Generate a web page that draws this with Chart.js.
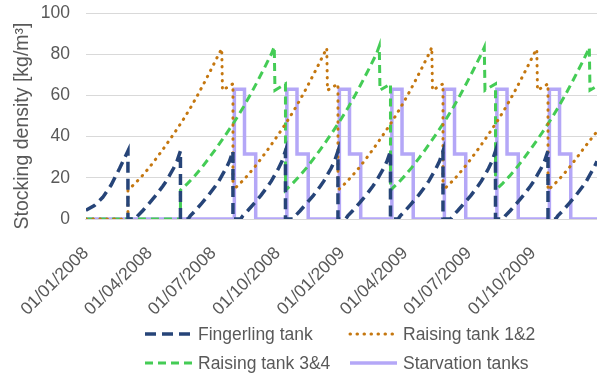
<!DOCTYPE html>
<html>
<head>
<meta charset="utf-8">
<script src="https://cdn.jsdelivr.net/npm/chart.js@4"></script>
<style>
  html, body { margin: 0; padding: 0; background: #fff; }
  #wrap { width: 597px; height: 378px; position: relative; }
</style>
</head>
<body>
<div id="wrap"><canvas id="stockChart"></canvas></div>
<script>
// x = days since 01/01/2008, y = stocking density [kg/m3]
const tickDays = [0, 91, 182, 274, 366, 456, 547, 639];
const tickLabels = ['01/01/2008', '01/04/2008', '01/07/2008', '01/10/2008',
                    '01/01/2009', '01/04/2009', '01/07/2009', '01/10/2009'];

const fingerling = [
  [0,4.2],[12,6.5],[24,10.5],[36,16.5],[48,24.5],[60,33],[60,0],
  [71,0],[74,1.5],[81,4],[90,7.5],[100,11.5],[110,16],[115,18.5],[120,21.5],[125,24.5],[130,28],[135,33],[135,0],
  [146,0],[149,1.5],[156,4],[165,7.5],[175,11.5],[185,16],[190,18.5],[195,21.5],[200,24.5],[205,28],[210,33],[210,0],
  [221,0],[224,1.5],[231,4],[240,7.5],[250,11.5],[260,16],[265,18.5],[270,21.5],[275,24.5],[280,28],[285,33],[285,0],
  [296,0],[299,1.5],[306,4],[315,7.5],[325,11.5],[335,16],[340,18.5],[345,21.5],[350,24.5],[355,28],[360,33],[360,0],
  [371,0],[374,1.5],[381,4],[390,7.5],[400,11.5],[410,16],[415,18.5],[420,21.5],[425,24.5],[430,28],[435,33],[435,0],
  [446,0],[449,1.5],[456,4],[465,7.5],[475,11.5],[485,16],[490,18.5],[495,21.5],[500,24.5],[505,28],[510,33],[510,0],
  [521,0],[524,1.5],[531,4],[540,7.5],[550,11.5],[560,16],[565,18.5],[570,21.5],[575,24.5],[580,28],[585,33],[585,0],
  [596,0],[599,1.5],[606,4],[615,7.5],[625,11.5],[635,16],[640,18.5],[645,21.5],[650,24.5],[655,28],[660,33],[660,0],
  [671,0],[674,1.5],[681,4],[690,7.5],[700,11.5],[710,16],[715,18.5],[720,21.5],[725,24.5],[730,28]
];

const raising12 = [
  [0,0],[60,0],
  [60,14],[70,17.2],[80,20.8],[90,24.8],[100,29.2],[110,33.8],[120,38.6],[130,43.6],[140,48.8],[150,54.4],[160,60.4],[170,66.8],[180,73.4],[190,80.2],[194,82.6],[195,62.5],[210,65.6],
  [210,14],[220,17.2],[230,20.8],[240,24.8],[250,29.2],[260,33.8],[270,38.6],[280,43.6],[290,48.8],[300,54.4],[310,60.4],[320,66.8],[330,73.4],[340,80.2],[344,83],[345,62.5],[360,65.6],
  [360,14],[370,17.2],[380,20.8],[390,24.8],[400,29.2],[410,33.8],[420,38.6],[430,43.6],[440,48.8],[450,54.4],[460,60.4],[470,66.8],[480,73.4],[490,80.2],[494,83.3],[495,62.5],[510,65.6],
  [510,14],[520,17.2],[530,20.8],[540,24.8],[550,29.2],[560,33.8],[570,38.6],[580,43.6],[590,48.8],[600,54.4],[610,60.4],[620,66.8],[630,73.4],[640,80.2],[644,82.4],[645,62.5],[660,65.6],
  [660,14],[670,17.2],[680,20.8],[690,24.8],[700,29.2],[710,33.8],[720,38.2],[730,42.5]
];

const raising34 = [
  [0,0],[135,0],
  [135,14],[145,17.2],[155,20.8],[165,24.8],[175,29.2],[185,33.8],[195,38.6],[205,43.6],[215,48.8],[225,54.4],[235,60.4],[245,66.8],[255,73.4],[265,80.2],[269,83.6],[270,62.5],[285,65.6],
  [285,14],[295,17.2],[305,20.8],[315,24.8],[325,29.2],[335,33.8],[345,38.6],[355,43.6],[365,48.8],[375,54.4],[385,60.4],[395,66.8],[405,73.4],[415,80.2],[419,84],[420,62.5],[435,65.6],
  [435,14],[445,17.2],[455,20.8],[465,24.8],[475,29.2],[485,33.8],[495,38.6],[505,43.6],[515,48.8],[525,54.4],[535,60.4],[545,66.8],[555,73.4],[565,80.2],[569,83.3],[570,62.5],[585,65.6],
  [585,14],[595,17.2],[605,20.8],[615,24.8],[625,29.2],[635,33.8],[645,38.6],[655,43.6],[665,48.8],[675,54.4],[685,60.4],[695,66.8],[705,73.4],[715,80.2],[719,83.3],[720,62.5],[730,64.5]
];

const starvation = [
  [0,0],
  [212,0],[212,63],[226.5,63],[226.5,31.5],[242.5,31.5],[242.5,0],
  [287,0],[287,63],[301.5,63],[301.5,31.5],[317.5,31.5],[317.5,0],
  [362,0],[362,63],[376.5,63],[376.5,31.5],[392.5,31.5],[392.5,0],
  [437,0],[437,63],[451.5,63],[451.5,31.5],[467.5,31.5],[467.5,0],
  [512,0],[512,63],[526.5,63],[526.5,31.5],[542.5,31.5],[542.5,0],
  [587,0],[587,63],[601.5,63],[601.5,31.5],[617.5,31.5],[617.5,0],
  [662,0],[662,63],[676.5,63],[676.5,31.5],[692.5,31.5],[692.5,0],
  [730,0]
];

const FONT = "'Liberation Sans', Arial, sans-serif";
const TEXT = '#595959';

// legend laid out in two aligned columns like the original
const legendPlugin = {
  id: 'gridLegend',
  afterDraw(chart) {
    const ctx = chart.ctx;
    const cols = [145, 350];
    const rows = [334, 363];
    chart.data.datasets.forEach((ds, i) => {
      const x = cols[i % 2], y = rows[Math.floor(i / 2)];
      ctx.save();
      ctx.strokeStyle = ds.borderColor;
      ctx.lineWidth = ds.borderWidth;
      ctx.lineCap = ds.borderCapStyle || 'butt';
      ctx.setLineDash(ds.borderDash || []);
      ctx.beginPath();
      ctx.moveTo(x, y);
      ctx.lineTo(x + 47, y);
      ctx.stroke();
      ctx.setLineDash([]);
      ctx.fillStyle = TEXT;
      ctx.font = '17.5px ' + FONT;
      ctx.textBaseline = 'middle';
      ctx.fillText(ds.label, x + 53, y + 1);
      ctx.restore();
    });
    // y axis title
    ctx.save();
    ctx.translate(23, 126);
    ctx.rotate(-Math.PI / 2);
    ctx.fillStyle = TEXT;
    ctx.font = '19.5px ' + FONT;
    ctx.textAlign = 'center';
    ctx.textBaseline = 'middle';
    ctx.fillText('Stocking density [kg/m³]', 0, 0);
    ctx.restore();
  }
};

const ctx = document.getElementById('stockChart').getContext('2d');
new Chart(ctx, {
  type: 'line',
  data: {
    datasets: [
      { label: 'Fingerling tank', data: fingerling, borderColor: '#264478',
        borderWidth: 3.5, borderDash: [11, 6] },
      { label: 'Raising tank 1&2', data: raising12, borderColor: '#C5770F',
        borderWidth: 3, borderDash: [0.5, 6.5], borderCapStyle: 'round' },
      { label: 'Raising tank 3&4', data: raising34, borderColor: '#44CC55',
        borderWidth: 3, borderDash: [8, 5] },
      { label: 'Starvation tanks', data: starvation, borderColor: '#B4A7F7',
        borderWidth: 3.5 }
    ]
  },
  options: {
    responsive: true,
    maintainAspectRatio: false,
    animation: false,
    layout: { padding: { top: 13, right: 0, left: 0, bottom: 0 } },
    elements: {
      point: { radius: 0, hoverRadius: 0 },
      line: { tension: 0, fill: false }
    },
    plugins: {
      legend: { display: false },
      tooltip: { enabled: false }
    },
    scales: {
      x: {
        type: 'linear',
        min: 0,
        max: 730,
        afterBuildTicks: (scale) => {
          scale.ticks = tickDays.map(v => ({ value: v }));
        },
        afterFit: (scale) => { scale.height = 159; },
        grid: { display: false, drawTicks: false },
        border: { display: true, color: '#D9D9D9', width: 1 },
        ticks: {
          autoSkip: false,
          minRotation: 45,
          maxRotation: 45,
          padding: 24,
          color: TEXT,
          font: { family: FONT, size: 17.5 },
          callback: (v) => tickLabels[tickDays.indexOf(v)]
        }
      },
      y: {
        min: 0,
        max: 100,
        afterFit: (scale) => {
          scale.width = 84;
          scale.paddingTop = 0;
          scale.paddingBottom = 0;
        },
        grid: { color: '#D9D9D9', drawTicks: false },
        border: { display: false },
        ticks: {
          stepSize: 20,
          padding: 16,
          color: TEXT,
          font: { family: FONT, size: 17.5 }
        }
      }
    }
  },
  plugins: [legendPlugin]
});
</script>
</body>
</html>
